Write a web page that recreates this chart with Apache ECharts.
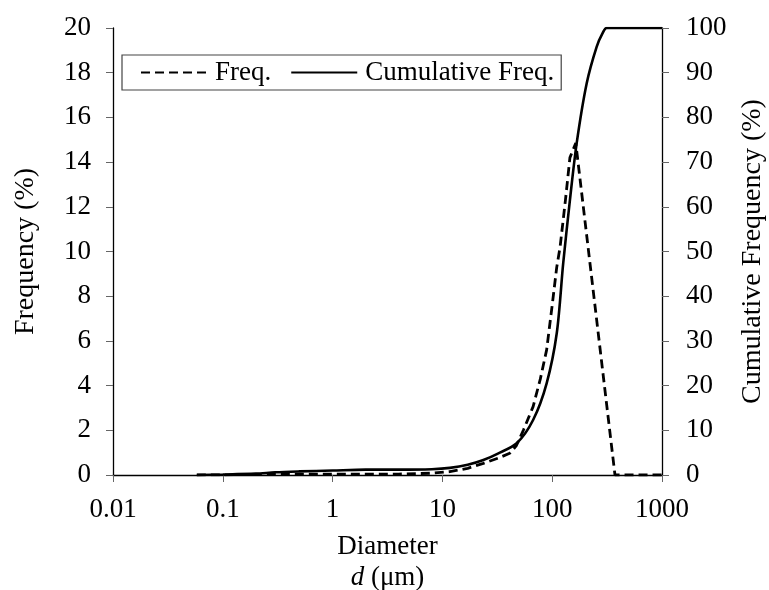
<!DOCTYPE html>
<html>
<head>
<meta charset="utf-8">
<script src="https://cdn.jsdelivr.net/npm/echarts@6/dist/echarts.min.js"></script>
<style>
  html, body { margin: 0; padding: 0; background: #fff; }
  #chart { width: 769px; height: 590px; }
</style>
</head>
<body>
<div id="chart"></div>
<script>
// particle size distribution, diameter in um (log scale)
var freqDiam = [0.058, 0.2, 0.3, 1, 4, 8, 11.7, 17, 23.6, 32, 41, 47, 54.6, 67, 78, 89, 100, 110, 118, 132, 145, 164, 373, 1000];
var freqVals = [0, 0.02, 0.04, 0.04, 0.04, 0.08, 0.15, 0.3, 0.52, 0.75, 0.97, 1.3, 2.0, 3.06, 4.3, 5.6, 7.6, 9.3, 10.2, 12.3, 14.2, 14.85, 0, 0];

var cumDiam = [0.058, 0.1, 0.2, 0.3, 0.5, 1, 2, 4.1, 8, 11.7, 17, 23.6, 32, 47.5, 67, 89, 110, 126, 145, 167, 206, 254, 290, 313, 1000];
var cumVals = [0, 0.1, 0.3, 0.6, 0.8, 1.0, 1.2, 1.2, 1.3, 1.6, 2.3, 3.35, 4.8, 7.1, 12.3, 20.5, 31.7, 47.4, 61.5, 74.2, 87.6, 95.8, 99, 100, 100];

var xTickLabels = ['0.01', '0.1', '1', '10', '100', '1000'];

var FONT = '"Liberation Serif", "Times New Roman", serif';

function pairs(xs, ys) {
    var out = [];
    for (var i = 0; i < xs.length; i++) {
        out.push([xs[i], ys[i]]);
    }
    return out;
}

var chart = echarts.init(document.getElementById('chart'), null, { renderer: 'canvas' });

var tickStyle = { show: true, inside: false, length: 7, lineStyle: { color: '#666', width: 1 } };
var lineAxis = { show: true, lineStyle: { color: '#000', width: 1.3 } };
var noMarker = { color: 'rgba(0,0,0,0)', borderWidth: 0, opacity: 0 };

var option = {
    animation: false,
    backgroundColor: '#fff',
    textStyle: { fontFamily: FONT, color: '#000' },
    grid: { left: 113, right: 107, top: 28, bottom: 115, containLabel: false, outerBoundsMode: 'none' },
    legend: {
        left: 122,
        top: 55,
        orient: 'horizontal',
        padding: [4, 7, 4, 18],
        itemGap: 19,
        itemWidth: 66,
        itemHeight: 14,
        borderColor: '#444',
        borderWidth: 1.2,
        borderRadius: 0,
        textStyle: { fontFamily: FONT, fontSize: 27, color: '#000', padding: [0, 0, 0, 3] },
        data: [
            { name: 'Freq.', itemStyle: noMarker },
            { name: 'Cumulative Freq.', itemStyle: noMarker }
        ]
    },
    xAxis: {
        type: 'log',
        logBase: 10,
        min: 0.01,
        max: 1000,
        axisLine: lineAxis,
        axisTick: tickStyle,
        minorTick: { show: false },
        splitLine: { show: false },
        axisLabel: {
            fontFamily: FONT,
            fontSize: 27,
            color: '#000',
            margin: 21,
            formatter: function (v) {
                var idx = Math.round(Math.log(v) / Math.LN10) + 2;
                return xTickLabels[idx] !== undefined ? xTickLabels[idx] : '';
            }
        },
        name: '{a|Diameter}\n{i|d}{a| (μm)}',
        nameLocation: 'middle',
        nameGap: 56,
        nameTextStyle: {
            fontFamily: FONT,
            color: '#000',
            lineHeight: 31,
            rich: {
                a: { fontFamily: FONT, fontSize: 27, color: '#000', lineHeight: 31 },
                i: { fontFamily: FONT, fontSize: 27, fontStyle: 'italic', color: '#000', lineHeight: 31 }
            }
        }
    },
    yAxis: [{
        type: 'value',
        min: 0,
        max: 20,
        interval: 2,
        position: 'left',
        axisLine: lineAxis,
        axisTick: tickStyle,
        splitLine: { show: false },
        axisLabel: { fontFamily: FONT, fontSize: 27, color: '#000', margin: 22 },
        name: 'Frequency (%)',
        nameLocation: 'middle',
        nameRotate: 90,
        nameGap: 73,
        nameTextStyle: { fontFamily: FONT, fontSize: 28, color: '#000' }
    }, {
        type: 'value',
        min: 0,
        max: 100,
        interval: 10,
        position: 'right',
        axisLine: lineAxis,
        axisTick: tickStyle,
        splitLine: { show: false },
        axisLabel: { fontFamily: FONT, fontSize: 27, color: '#000', margin: 24 },
        name: 'Cumulative Frequency (%)',
        nameLocation: 'middle',
        nameRotate: 90,
        nameGap: 77,
        nameTextStyle: { fontFamily: FONT, fontSize: 28, color: '#000' }
    }],
    series: [{
        name: 'Freq.',
        type: 'line',
        yAxisIndex: 0,
        showSymbol: false,
        symbol: 'none',
        smooth: false,
        lineStyle: { color: '#000', width: 2.8, type: [9, 5] },
        itemStyle: { color: '#000' },
        data: pairs(freqDiam, freqVals)
    }, {
        name: 'Cumulative Freq.',
        type: 'line',
        yAxisIndex: 1,
        showSymbol: false,
        symbol: 'none',
        smooth: 0.3,
        lineStyle: { color: '#000', width: 2.6, type: 'solid' },
        itemStyle: { color: '#000' },
        data: pairs(cumDiam, cumVals)
    }]
};

chart.setOption(option);
</script>
</body>
</html>
